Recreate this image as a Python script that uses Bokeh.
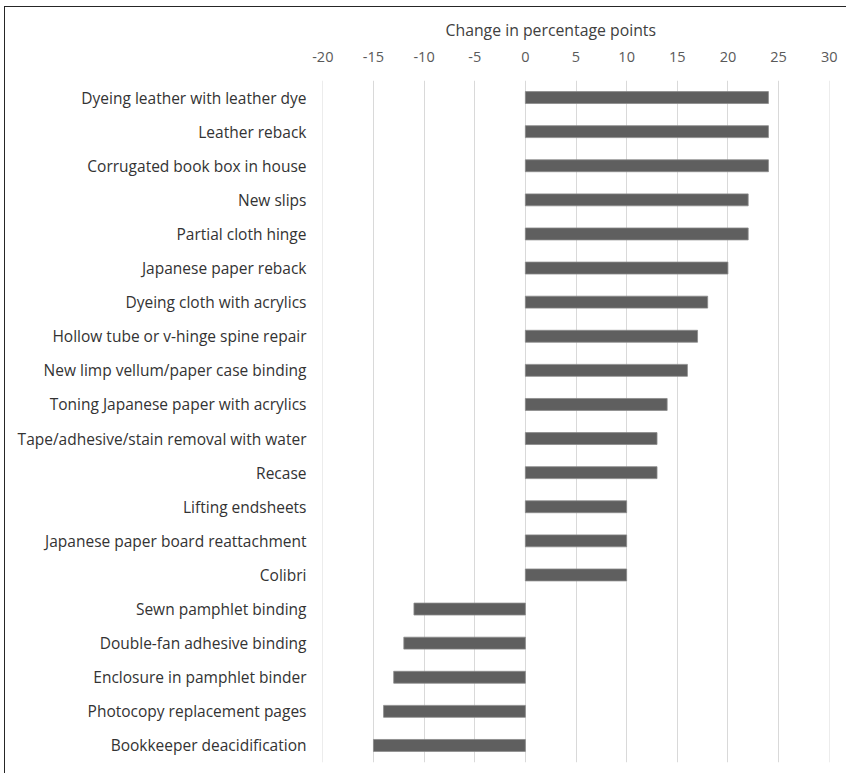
from bokeh.plotting import figure
from bokeh.models import ColumnDataSource, FactorRange, Range1d, FixedTicker, LinearAxis, Grid
from bokeh.embed import file_html
from bokeh.resources import INLINE

categories = [
    "Dyeing leather with leather dye",
    "Leather reback",
    "Corrugated book box in house",
    "New slips",
    "Partial cloth hinge",
    "Japanese paper reback",
    "Dyeing cloth with acrylics",
    "Hollow tube or v-hinge spine repair",
    "New limp vellum/paper case binding",
    "Toning Japanese paper with acrylics",
    "Tape/adhesive/stain removal with water",
    "Recase",
    "Lifting endsheets",
    "Japanese paper board reattachment",
    "Colibri",
    "Sewn pamphlet binding",
    "Double-fan adhesive binding",
    "Enclosure in pamphlet binder",
    "Photocopy replacement pages",
    "Bookkeeper deacidification",
]
changes = [24, 24, 24, 22, 22, 20, 18, 17, 16, 14, 13, 13, 10, 10, 10, -11, -12, -13, -14, -15]
x_ticks = [-20, -15, -10, -5, 0, 5, 10, 15, 20, 25, 30]
x_tick_labels = ["-20", "-15", "-10", "-5", "0", "5", "10", "15", "20", "25", "30"]
axis_title = "Change in percentage points"

FONT = "Open Sans"

src = ColumnDataSource(dict(cat=categories, val=changes))

p = figure(
    width=842, height=767,
    y_range=FactorRange(*reversed(categories)),
    x_range=Range1d(-20.03, 30.03),
    x_axis_location=None,
    output_backend="svg", toolbar_location=None,
    min_border_left=317, min_border_right=18, min_border_top=73, min_border_bottom=12,
    background_fill_color="white", border_fill_color="white",
)
p.styles = {"border-top": "1.5px solid #262626", "border-left": "1.5px solid #262626",
            "margin-left": "4px", "margin-top": "6px"}
p.outline_line_color = None

p.xgrid.visible = False
p.ygrid.visible = False
g = Grid(dimension=0, ticker=FixedTicker(ticks=x_ticks), grid_line_color="#d9d9d9", grid_line_width=1)
p.add_layout(g)

p.hbar(y="cat", left=0, right="val", height=0.35, source=src,
       fill_color="#5f5f5f", line_color="#8a8a8a", line_width=0.8)

xaxis = LinearAxis(ticker=FixedTicker(ticks=x_ticks))
xaxis.major_label_overrides = {t: s for t, s in zip(x_ticks, x_tick_labels)}
xaxis.axis_line_color = None
xaxis.major_tick_line_color = None
xaxis.minor_tick_line_color = None
xaxis.major_label_text_font = FONT
xaxis.major_label_text_font_size = "14.5px"
xaxis.major_label_text_color = "#595959"
xaxis.major_label_standoff = 13
p.add_layout(xaxis, "above")

p.title.text = axis_title
p.title.align = "left"
p.title.offset = 123
p.title.text_font = FONT
p.title.text_font_size = "15.8px"
p.title.text_font_style = "normal"
p.title.text_color = "#404040"
p.title.standoff = 16

yaxis = p.yaxis[0]
yaxis.axis_line_color = None
yaxis.major_tick_line_color = None
yaxis.minor_tick_line_color = None
yaxis.major_label_text_font = FONT
yaxis.major_label_text_font_size = "15.5px"
yaxis.major_label_text_color = "#333333"
yaxis.major_label_standoff = 10

open("out.html", "w").write(file_html(p, INLINE))
